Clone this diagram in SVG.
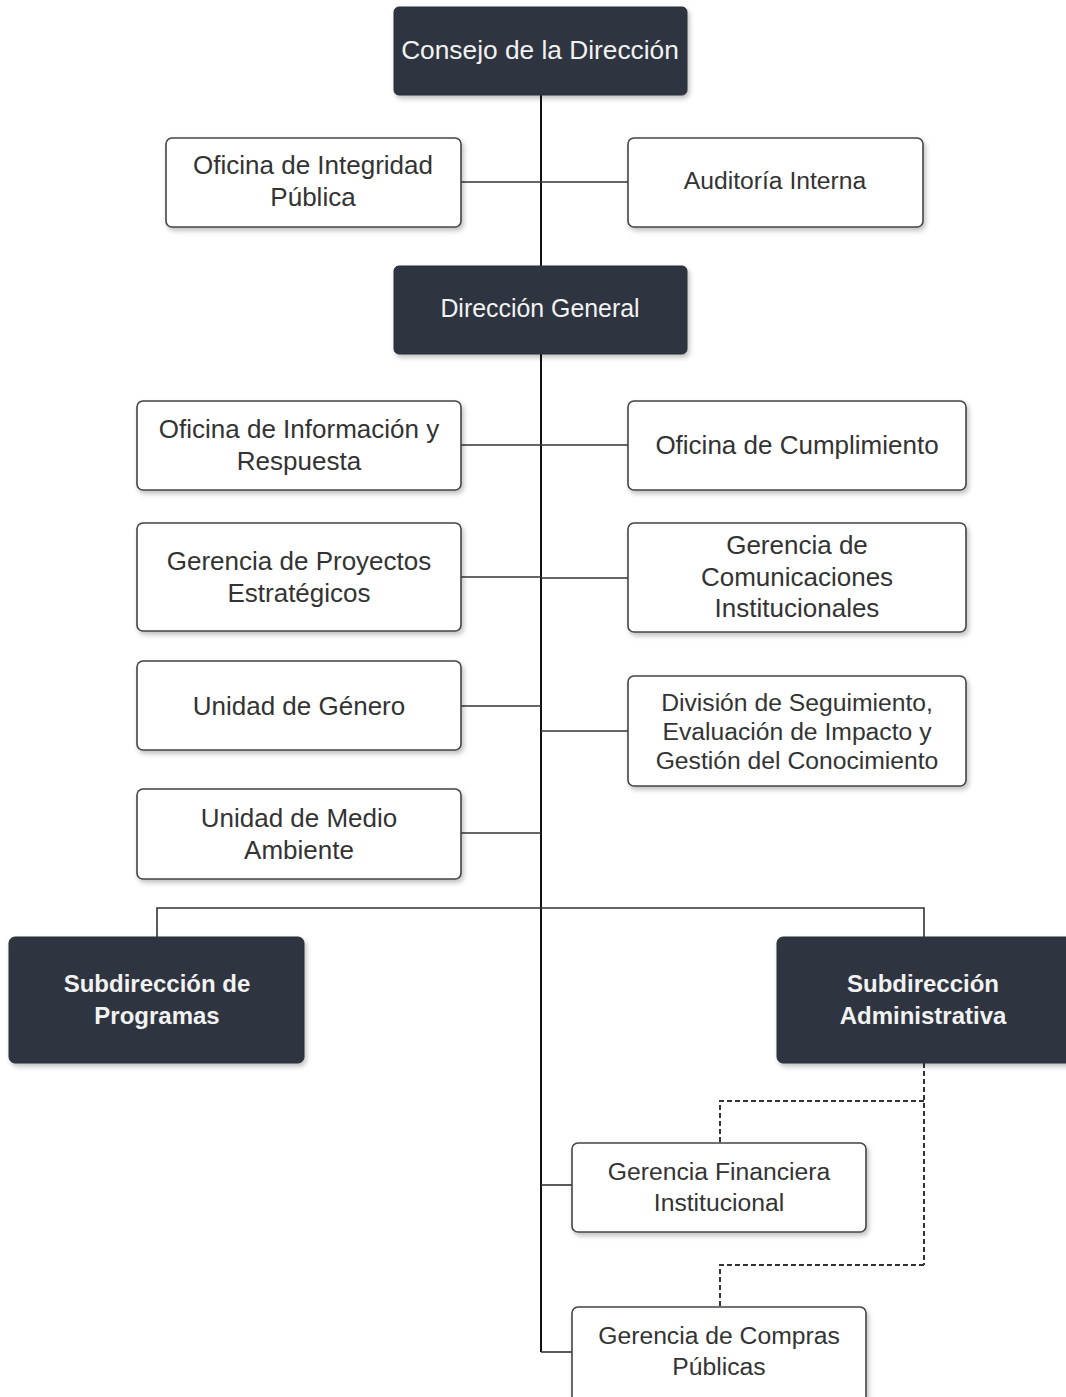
<svg xmlns="http://www.w3.org/2000/svg" width="1066" height="1397" viewBox="0 0 1066 1397">
<style>
.box{fill:#fff;stroke:#444;stroke-width:1.6}
.dark{fill:#2e3640;stroke:#2a3038;stroke-width:1}
.t{font-family:"Liberation Sans",Arial,sans-serif;font-size:26px;fill:#333;text-anchor:middle}
.s{font-size:24.7px}
.tw{font-family:"Liberation Sans",Arial,sans-serif;font-size:24px;fill:#f2f2f2;text-anchor:middle}
.tb{font-weight:bold}
.ln{fill:none;stroke:#111;stroke-width:2}
.lt{fill:none;stroke:#333;stroke-width:1.6}
.dash{fill:none;stroke:#333;stroke-width:2;stroke-dasharray:5 3}
</style>
<defs>
<filter id="sh" x="-10%" y="-10%" width="125%" height="130%">
<feDropShadow dx="2" dy="3" stdDeviation="2.5" flood-color="#000" flood-opacity="0.25"/>
</filter>
</defs>
<rect width="1066" height="1397" fill="#fff"/>
<g id="connectors">
<path class="ln" d="M541 95 V266"/>
<path class="lt" d="M461 182 H628"/>
<path class="ln" d="M541 354 V1352"/>
<path class="lt" d="M461 445 H628"/>
<path class="lt" d="M461 577 H541"/>
<path class="lt" d="M541 578 H628"/>
<path class="lt" d="M461 706 H541"/>
<path class="lt" d="M541 731 H628"/>
<path class="lt" d="M461 833 H541"/>
<path class="lt" d="M157 937 V908 H924 V937"/>
<path class="lt" d="M541 1185 H572"/>
<path class="lt" d="M541 1352 H572"/>
<path class="dash" d="M924 1063 V1265"/>
<path class="dash" d="M924 1101 H720 V1143"/>
<path class="dash" d="M924 1265 H720 V1307"/>
</g>
<g id="n-consejo"><rect class="dark" x="394" y="7" width="293" height="88" rx="5" filter="url(#sh)"/><text class="tw" style="font-size:26.3px" x="540" y="59">Consejo de la Dirección</text></g>
<g id="n-integridad"><rect class="box" x="166" y="138" width="295" height="89" rx="6" filter="url(#sh)"/><text class="t" x="313" y="174">Oficina de Integridad</text><text class="t" x="313" y="206">Pública</text></g>
<g id="n-auditoria"><rect class="box" x="628" y="138" width="295" height="89" rx="6" filter="url(#sh)"/><text class="t s" x="775" y="189">Auditoría Interna</text></g>
<g id="n-direccion"><rect class="dark" x="394" y="266" width="293" height="88" rx="5" filter="url(#sh)"/><text class="tw" style="font-size:24.9px" x="540" y="317">Dirección General</text></g>
<g id="n-informacion"><rect class="box" x="137" y="401" width="324" height="89" rx="6" filter="url(#sh)"/><text class="t" x="299" y="438">Oficina de Información y</text><text class="t" x="299" y="470">Respuesta</text></g>
<g id="n-cumplimiento"><rect class="box" x="628" y="401" width="338" height="89" rx="6" filter="url(#sh)"/><text class="t" x="797" y="454">Oficina de Cumplimiento</text></g>
<g id="n-proyectos"><rect class="box" x="137" y="523" width="324" height="108" rx="6" filter="url(#sh)"/><text class="t" x="299" y="570">Gerencia de Proyectos</text><text class="t" x="299" y="602">Estratégicos</text></g>
<g id="n-comunicaciones"><rect class="box" x="628" y="523" width="338" height="109" rx="6" filter="url(#sh)"/><text class="t" x="797" y="554">Gerencia de</text><text class="t" x="797" y="586">Comunicaciones</text><text class="t" x="797" y="617">Institucionales</text></g>
<g id="n-genero"><rect class="box" x="137" y="661" width="324" height="89" rx="6" filter="url(#sh)"/><text class="t" x="299" y="715">Unidad de Género</text></g>
<g id="n-division"><rect class="box" x="628" y="676" width="338" height="110" rx="6" filter="url(#sh)"/><text class="t s" x="797" y="711">División de Seguimiento,</text><text class="t s" x="797" y="740">Evaluación de Impacto y</text><text class="t s" x="797" y="769">Gestión del Conocimiento</text></g>
<g id="n-medioambiente"><rect class="box" x="137" y="789" width="324" height="90" rx="6" filter="url(#sh)"/><text class="t" x="299" y="827">Unidad de Medio</text><text class="t" x="299" y="859">Ambiente</text></g>
<g id="n-subprogramas"><rect class="dark" x="9" y="937" width="295" height="126" rx="6" filter="url(#sh)"/><text class="tw tb" x="157" y="992">Subdirección de</text><text class="tw tb" x="157" y="1024">Programas</text></g>
<g id="n-subadministrativa"><rect class="dark" x="777" y="937" width="300" height="126" rx="6" filter="url(#sh)"/><text class="tw tb" x="923" y="992">Subdirección</text><text class="tw tb" x="923" y="1024">Administrativa</text></g>
<g id="n-financiera"><rect class="box" x="572" y="1143" width="294" height="89" rx="6" filter="url(#sh)"/><text class="t s" x="719" y="1180">Gerencia Financiera</text><text class="t s" x="719" y="1211">Institucional</text></g>
<g id="n-compras"><rect class="box" x="572" y="1307" width="294" height="100" rx="6" filter="url(#sh)"/><text class="t s" x="719" y="1344">Gerencia de Compras</text><text class="t s" x="719" y="1375">Públicas</text></g>
</svg>
